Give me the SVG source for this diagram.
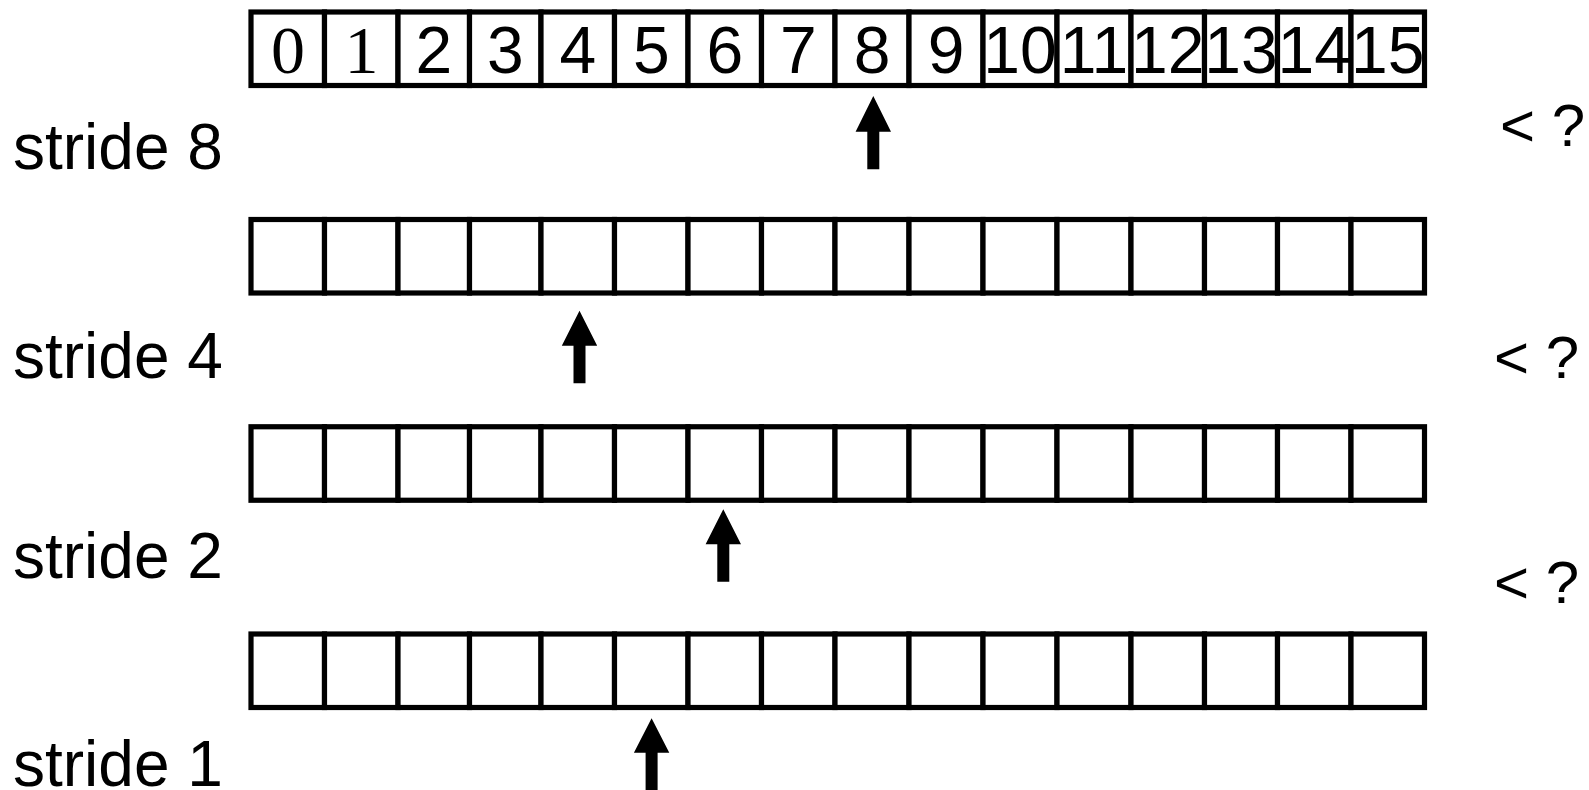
<svg xmlns="http://www.w3.org/2000/svg" width="1589" height="790" viewBox="0 0 1589 790">
<style>
.cell{fill:#fff;stroke:#000;stroke-width:5.2}
.num{font-family:"Liberation Sans",Arial,sans-serif;font-size:66px;text-anchor:middle;fill:#000}
.nums{font-family:"Liberation Serif","Times New Roman",serif;font-size:68px;text-anchor:middle;fill:#000}
.lbl{font-family:"Liberation Sans",Arial,sans-serif;font-size:64px;fill:#000}
.q{font-family:"Liberation Sans",Arial,sans-serif;font-size:60px;fill:#000}
.arr{fill:#000}
</style>
<defs>
<g id="row">
<rect class="cell" x="251" y="0" width="73.5" height="73.5"/>
<rect class="cell" x="324.5" y="0" width="73.5" height="73.5"/>
<rect class="cell" x="398" y="0" width="71.5" height="73.5"/>
<rect class="cell" x="469.5" y="0" width="71.5" height="73.5"/>
<rect class="cell" x="541" y="0" width="73.5" height="73.5"/>
<rect class="cell" x="614.5" y="0" width="73.5" height="73.5"/>
<rect class="cell" x="688" y="0" width="73.5" height="73.5"/>
<rect class="cell" x="761.5" y="0" width="73.5" height="73.5"/>
<rect class="cell" x="835" y="0" width="74" height="73.5"/>
<rect class="cell" x="909" y="0" width="74" height="73.5"/>
<rect class="cell" x="983" y="0" width="74" height="73.5"/>
<rect class="cell" x="1057" y="0" width="74" height="73.5"/>
<rect class="cell" x="1131" y="0" width="73.5" height="73.5"/>
<rect class="cell" x="1204.5" y="0" width="73" height="73.5"/>
<rect class="cell" x="1277.5" y="0" width="73.5" height="73.5"/>
<rect class="cell" x="1351" y="0" width="73.5" height="73.5"/>
</g>
</defs>
<g id="array-top">
<use href="#row" y="12"/>
<text class="nums" x="288" y="73">0</text>
<text class="nums" x="361.5" y="73">1</text>
<text class="num" x="433.75" y="73">2</text>
<text class="num" x="505.25" y="73">3</text>
<text class="num" x="577.75" y="73">4</text>
<text class="num" x="651.25" y="73">5</text>
<text class="num" x="724.75" y="73">6</text>
<text class="num" x="798.25" y="73">7</text>
<text class="num" x="872" y="73">8</text>
<text class="num" x="946" y="73">9</text>
<text class="num" x="1020" y="73">10</text>
<text class="num" x="1094" y="73">11</text>
<text class="num" x="1167.75" y="73">12</text>
<text class="num" x="1241" y="73">13</text>
<text class="num" x="1314.25" y="73">14</text>
<text class="num" x="1387.75" y="73">15</text>
</g>
<g id="array-2"><use href="#row" y="219.5"/></g>
<g id="array-3"><use href="#row" y="426.75"/></g>
<g id="array-4"><use href="#row" y="634"/></g>
<g id="label-stride8"><text class="lbl" x="13" y="169">stride 8</text></g>
<g id="label-stride4"><text class="lbl" x="13" y="378">stride 4</text></g>
<g id="label-stride2"><text class="lbl" x="13" y="578">stride 2</text></g>
<g id="label-stride1"><text class="lbl" x="13" y="786">stride 1</text></g>
<g id="cmp1"><text class="q" x="1500" y="146">&lt; ?</text></g>
<g id="cmp2"><text class="q" x="1494" y="378">&lt; ?</text></g>
<g id="cmp3"><text class="q" x="1494" y="603">&lt; ?</text></g>
<g id="connectors">
<polygon class="arr" points="873.3,96 891,131.7 879.3,131.7 879.3,169.3 867.3,169.3 867.3,131.7 855.6,131.7"/>
<polygon class="arr" points="579.5,310.7 597.2,345.7 585.5,345.7 585.5,383.3 573.5,383.3 573.5,345.7 561.8,345.7"/>
<polygon class="arr" points="723.3,509.3 741,544.3 729.3,544.3 729.3,581.7 717.3,581.7 717.3,544.3 705.6,544.3"/>
<polygon class="arr" points="651.6,718.3 669.3,752.7 657.6,752.7 657.6,795 645.6,795 645.6,752.7 633.9,752.7"/>
</g>
</svg>
